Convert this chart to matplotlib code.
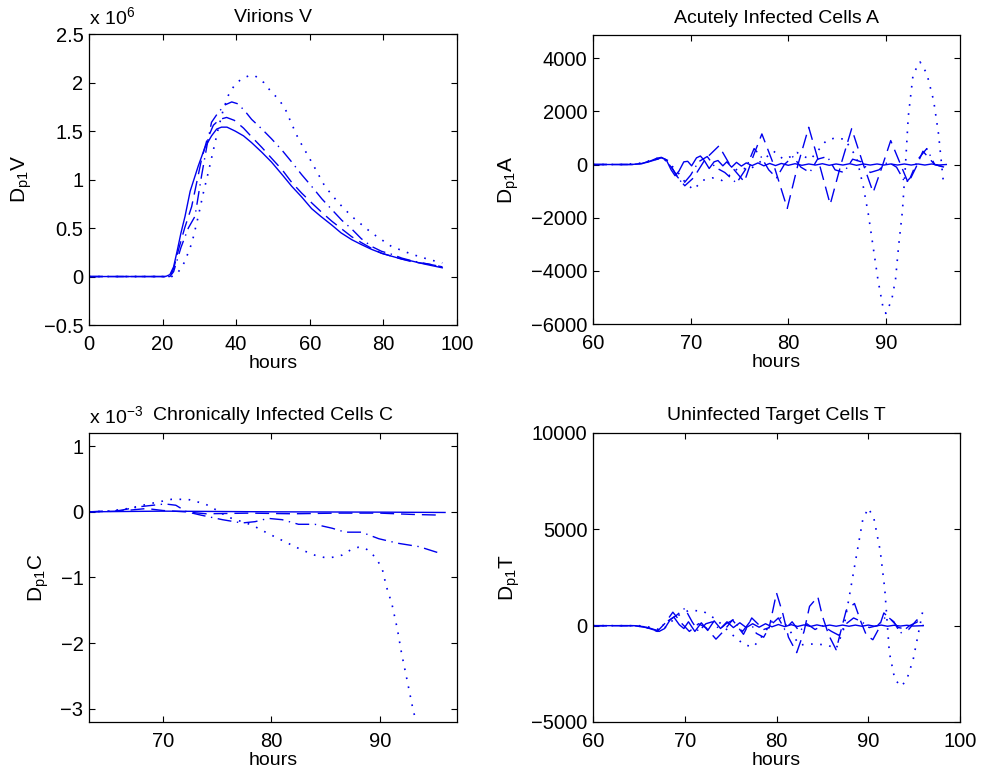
import matplotlib
matplotlib.use("Agg")
import matplotlib.pyplot as plt

plt.rcParams["font.family"] = ["Liberation Sans", "DejaVu Sans"]
plt.rcParams["mathtext.default"] = "regular"
plt.rcParams["font.size"] = 14

# ---- Virions V (units of 1e6) ----
v_solid_t = [0, 20, 21, 22, 23, 24, 25, 26.1, 27.5, 29.7, 31.5, 33.3, 34.7, 36, 37.5, 39.7, 42, 44.2,
             47, 49.6, 52.5, 55.1, 57.8, 60.5, 63, 66, 68.5, 71.4, 74, 76.8, 79.5, 82.2, 85, 87.7, 91, 93.5, 96]
v_solid = [0, 0, 0.003, 0.02, 0.1, 0.27, 0.45, 0.62, 0.88, 1.14, 1.33, 1.45, 1.52, 1.54, 1.54, 1.50, 1.45, 1.38,
           1.28, 1.18, 1.05, 0.93, 0.82, 0.70, 0.62, 0.53, 0.45, 0.38, 0.33, 0.28, 0.24, 0.21, 0.18, 0.16, 0.13, 0.11, 0.09]
v_dash_t = [0, 20, 21, 22, 23, 24.5, 26, 27.9, 30.6, 32, 33.8, 35.5, 37.4, 39.5, 42, 44.2, 47, 49.6, 52.5,
            55.1, 57.8, 60.5, 63.3, 66, 68.7, 71.4, 74, 76.8, 79.5, 82.2, 85, 88, 92, 96]
v_dash = [0, 0, -0.005, 0, 0.08, 0.3, 0.5, 0.72, 1.21, 1.4, 1.56, 1.62, 1.64, 1.61, 1.53, 1.44, 1.33, 1.22, 1.1,
          0.97, 0.86, 0.76, 0.66, 0.57, 0.49, 0.41, 0.35, 0.29, 0.24, 0.21, 0.18, 0.15, 0.13, 0.10]
v_dashdot_t = [0, 20, 22, 23, 25, 27, 28.8, 30.6, 32.3, 33.3, 34.2, 35.1, 37, 38.8, 40.5, 42.5, 44.2, 47, 49.6,
               52.5, 55.1, 57.8, 60.5, 63.3, 66, 68.7, 71.4, 74, 76.8, 79.5, 82.2, 85, 88, 92, 96]
v_dashdot = [0, 0, 0, 0.05, 0.3, 0.5, 0.62, 1.04, 1.4, 1.59, 1.64, 1.69, 1.77, 1.80, 1.78, 1.70, 1.62, 1.52, 1.42,
             1.30, 1.18, 1.05, 0.93, 0.80, 0.69, 0.58, 0.49, 0.39, 0.31, 0.26, 0.23, 0.19, 0.16, 0.13, 0.10]
v_dot_t = [0, 20, 22, 24, 26, 28, 29.7, 31, 32.4, 35.1, 36.5, 37.9, 39.5, 41.5, 43.5, 45.1, 47.5, 49.6, 51.5,
           53.3, 55, 56.9, 60.5, 64.1, 67.8, 71.4, 76.8, 82.2, 87.7, 92, 96]
v_dot = [0, 0, -0.01, 0.03, 0.15, 0.35, 0.62, 0.85, 1.07, 1.52, 1.72, 1.87, 1.97, 2.04, 2.07, 2.07, 2.0, 1.90, 1.83,
         1.73, 1.58, 1.42, 1.18, 0.93, 0.76, 0.62, 0.45, 0.31, 0.23, 0.18, 0.14]

# ---- Acutely Infected Cells A ----
a_solid_t = [60, 64, 65, 65.8, 66.5, 67, 67.5, 68, 68.4, 68.8, 69.3, 69.7, 70.1, 70.6, 71, 71.4, 71.9, 72.4, 72.8,
             73.3, 73.7, 74.2, 74.7, 75.2, 75.7, 76.3, 76.9, 77.5, 78.1, 78.7, 79.3, 80, 80.7, 81.4, 82.1, 82.8,
             83.5, 84.2, 84.9, 85.6, 86.3, 87, 87.7, 88.4, 89.1, 89.8, 90.5, 91.2, 91.9, 92.6, 93.3, 94, 94.7, 95.4, 96.2]
a_solid = [0, 0, 40, 120, 230, 270, 180, -200, -420, -250, 100, 120, -50, 250, 320, 150, -150, 100, 150,
           -50, 100, -100, 80, -60, 60, -40, 60, -50, 40, -40, 40, -30, 30, -30, 20, -20,
           30, -30, 20, -20, 30, -30, 20, -20, 20, -20, 20, -20, 20, -20, 20, -20, 20, -20, 0]
a_dash_t = [60, 64, 65, 66, 67, 67.7, 68.5, 69.4, 70.3, 71.5, 72.9, 74, 75.5, 76.4, 77.3, 78.5, 79.9, 81, 82.1,
            83.2, 84.3, 85.4, 86.5, 87.6, 88.7, 89.6, 90.5, 91.4, 92.3, 93.1, 93.8, 95, 96]
a_dash = [0, 0, 30, 150, 250, 150, -400, -800, -500, 200, 700, 0, -650, 300, 1150, 0, -1650, 0, 1400,
          0, -1500, 0, 1350, 100, -1050, -100, 900, 100, -700, -100, 500, 0, -100]
a_dashdot_t = [60, 64, 65.5, 66.8, 67.5, 68.3, 69.2, 70, 70.8, 71.7, 72.5, 73.5, 74.7, 75.6, 76.5, 77.2, 78, 78.8,
               79.6, 80.5, 81.3, 82.2, 83, 84, 84.8, 85.7, 86.6, 87.5, 88.4, 89.3, 90.2, 91.1, 92, 92.5, 93.3,
               94.2, 95, 96]
a_dashdot = [0, 0, 80, 220, 150, -250, -750, -400, 100, 300, -100, -300, -700, -200, 600, 300, -200, -500,
             0, 300, -100, -300, 200, 300, -200, -300, 200, 100, -300, -200, 100, -100, -700, -500, 200,
             600, 0, -100]
a_dot_t = [60, 63, 65, 66.5, 67.3, 68.5, 69.5, 70.3, 71.2, 72.2, 73.2, 74, 75, 76, 77.5, 78.5, 79.5, 80.3, 80.9,
           81.6, 82.3, 83, 83.9, 84.8, 85.8, 86.4, 87, 87.7, 88.2, 88.7, 89.2, 89.7, 90, 90.6, 91, 91.3, 91.7,
           92, 92.3, 92.8, 93.5, 94.2, 94.9, 95.4, 95.9]
a_dot = [0, 0, 50, 230, 200, -200, -700, -950, -600, -500, -600, -400, -100, -200, 200, 500, 200, 300, 450,
         300, 200, 500, 900, 1000, 950, 600, 280, -850, -1850, -3100, -4350, -5350, -5600, -5100, -4300, -3100, -1750,
         -100, 1800, 3400, 3860, 3420, 2400, 1150, -670]

# ---- Chronically Infected Cells C (units of 1e-3) ----
c_solid_t = [63.2, 70, 80, 90, 96]
c_solid = [0, 0.01, 0, -0.005, -0.01]
c_dash_t = [63.2, 66, 68.5, 70, 72, 74, 78, 82, 86, 90, 93, 95.5]
c_dash = [0, 0.01, 0.05, 0.02, 0, -0.03, -0.02, -0.03, -0.02, -0.02, -0.04, -0.05]
c_dashdot_t = [63.2, 66, 68, 70.2, 71.2, 72.2, 73.5, 75.5, 77.3, 78.5, 79.7, 81, 82.5, 84, 85.6, 86.8, 88.3,
               89.9, 91.7, 93.6, 95.7]
c_dashdot = [0, 0.02, 0.08, 0.12, 0.10, 0, -0.05, -0.12, -0.17, -0.15, -0.10, -0.12, -0.19, -0.19, -0.25, -0.31,
             -0.31, -0.41, -0.48, -0.53, -0.64]
c_dot_t = [63.2, 65, 66.8, 69, 70.8, 72.3, 73.9, 74.8, 76, 78.2, 79.7, 81.3, 82.8, 84, 85, 85.8, 86.5, 87.3, 88,
           88.6, 89.2, 89.8, 90.2, 90.6, 91.1, 91.6, 92, 92.5, 93, 93.4, 93.6]
c_dot = [0, 0.01, 0.05, 0.13, 0.19, 0.19, 0.12, 0.04, -0.08, -0.2, -0.33, -0.46, -0.58, -0.66, -0.70, -0.69, -0.66,
         -0.58, -0.54, -0.55, -0.62, -0.75, -0.86, -1.14, -1.40, -1.78, -2.16, -2.56, -2.97, -3.25, -3.4]

# ---- Uninfected Target Cells T ----
t_solid_t = [60, 64.5, 65.5, 66.5, 67.2, 67.8, 68.4, 68.8, 69.4, 69.9, 70.4, 71.1, 71.8, 72.5, 73.2, 73.9, 74.6,
             75.3, 76, 76.7, 77.4, 78.1, 78.8, 79.5, 80.2, 80.9, 81.6, 82.3, 83, 83.7, 84.4, 85.1, 85.8, 86.5,
             87.2, 87.9, 88.6, 89.3, 90, 90.7, 91.4, 92.1, 92.8, 93.5, 94.2, 94.9, 96]
t_solid = [0, 0, -50, -200, -300, -150, 300, 450, 50, -150, 200, -300, 150, -250, 250, -150, 200,
           -100, 150, -100, 100, -80, 100, -60, 60, -50, 50, -40, 40, -40, 40, -30, 30, -30,
           30, -30, 30, -30, 30, -30, 30, -30, 20, -20, 20, -20, 0]
t_dash_t = [60, 64.5, 65.8, 67, 67.8, 68.7, 69.7, 70.5, 71.5, 72.3, 73.4, 74.2, 75.2, 76.4, 77.3, 78.6, 79.2, 80,
            80.7, 81.3, 82.2, 83, 83.6, 84.5, 85, 85.7, 86.5, 87, 87.6, 88.5, 89.2, 89.8, 90.5, 91.1, 91.7, 92.5,
            93.3, 94.4, 95.3, 96]
t_dash = [0, 0, -100, -300, 100, 700, 100, -300, 100, -100, -700, -300, 300, -450, 400, -200, -100, 1700,
          600, -600, -1400, -300, 1000, 1500, 500, -500, -1250, -300, 800, 1150, 200, -500, -730, -200, 660, 300,
          -100, -200, 300, 0]
t_dashdot_t = [60, 64.5, 66, 67, 68, 69, 70, 70.8, 71.5, 72.3, 73, 73.8, 74.5, 75.3, 76.3, 77.1, 77.8, 78.6, 79.3,
               80.2, 80.9, 81.7, 82.5, 83.3, 84.2, 85, 86, 86.8, 87.6, 88.4, 89.3, 90.1, 91, 92, 92.8, 93.5, 94.5,
               95.4, 96]
t_dashdot = [0, 0, -100, -250, 200, 500, 900, 200, -300, 100, 200, -200, 100, 300, -300, 200, -400, -600, 0,
             400, -200, 200, -300, 100, -200, 0, -300, -500, 100, 400, 200, -100, 0, 500, 200, -400, 0,
             200, 0]
t_dot_t = [60, 65, 66.5, 67.5, 68.5, 69.5, 70.5, 72, 73.5, 75, 76.5, 77.5, 78.5, 79.5, 80.5, 81.5, 82.5, 84, 85.5,
           86.5, 87.3, 88, 88.7, 89.4, 90, 90.6, 91.3, 91.8, 92.3, 92.9, 93.6, 94.2, 94.9, 95.4, 96]
t_dot = [0, 0, -100, -250, 200, 600, 800, 750, 300, -400, -1000, -1100, -500, 200, 400, -300, -1000, -950, -1000,
         -1200, -200, 1700, 3600, 5500, 6100, 5600, 3900, 1900, -1400, -2800, -3150, -2800, -1750, -550, 900]

STYLES = ["-", (0, (10, 5)), (0, (10, 4, 1, 4)), (0, (1, 4.5))]


def draw(ax, series, title, ylabel, xlim, ylim, xticks, yticks, yticklabels=None):
    for (t, y), ls in zip(series, STYLES):
        lw = 1.2 if ls == STYLES[3] else 1.0
        ax.plot(t, y, color="#0000ee", linestyle=ls, linewidth=lw, solid_joinstyle="round")
    ax.set_xlim(*xlim)
    ax.set_ylim(*ylim)
    ax.set_xticks(xticks)
    ax.set_yticks(yticks)
    if yticklabels is not None:
        ax.set_yticklabels(yticklabels)
    ax.tick_params(direction="in", top=True, right=True, length=4, width=0.8, labelsize=14.5)
    ax.tick_params(axis="x", pad=7)
    ax.tick_params(axis="y", pad=4)
    for s in ax.spines.values():
        s.set_linewidth(0.9)
    ax.set_title(title, pad=9, fontsize=14)
    ax.set_xlabel("hours", labelpad=1, fontsize=14)
    ax.set_ylabel(ylabel, labelpad=7, fontsize=15)


fig = plt.figure(figsize=(9.83, 7.75), dpi=100)
ax1 = fig.add_axes([0.0905, 0.5806, 0.3744, 0.3755])
ax2 = fig.add_axes([0.6033, 0.5819, 0.3733, 0.3729])
ax3 = fig.add_axes([0.0905, 0.0684, 0.3744, 0.3729])
ax4 = fig.add_axes([0.6033, 0.0684, 0.3733, 0.3729])

draw(ax1, [(v_solid_t, v_solid), (v_dash_t, v_dash), (v_dashdot_t, v_dashdot), (v_dot_t, v_dot)],
     "Virions V", "D$_{p1}$V", (0, 100), (-0.5, 2.5), range(0, 101, 20),
     [-0.5, 0, 0.5, 1, 1.5, 2, 2.5], ["\u22120.5", "0", "0.5", "1", "1.5", "2", "2.5"])
ax1.text(0.0, 1.02, "x 10$^{6}$", transform=ax1.transAxes, ha="left", va="bottom", fontsize=14)

draw(ax2, [(a_solid_t, a_solid), (a_dash_t, a_dash), (a_dashdot_t, a_dashdot), (a_dot_t, a_dot)],
     "Acutely Infected Cells A", "D$_{p1}$A", (60, 97.6), (-6000, 4870), [60, 70, 80, 90],
     [-6000, -4000, -2000, 0, 2000, 4000])

draw(ax3, [(c_solid_t, c_solid), (c_dash_t, c_dash), (c_dashdot_t, c_dashdot), (c_dot_t, c_dot)],
     "Chronically Infected Cells C", "D$_{p1}$C", (63.2, 97.1), (-3.2, 1.2), [70, 80, 90],
     [-3, -2, -1, 0, 1])
ax3.text(0.0, 1.02, "x 10$^{-3}$", transform=ax3.transAxes, ha="left", va="bottom", fontsize=14)

draw(ax4, [(t_solid_t, t_solid), (t_dash_t, t_dash), (t_dashdot_t, t_dashdot), (t_dot_t, t_dot)],
     "Uninfected Target Cells T", "D$_{p1}$T", (60, 100), (-5000, 10000), [60, 70, 80, 90, 100],
     [-5000, 0, 5000, 10000])

fig.savefig("out.png", dpi=100)
